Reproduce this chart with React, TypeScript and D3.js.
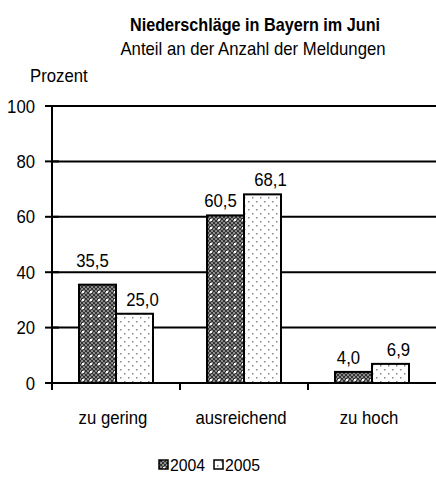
import { useEffect, useRef } from "react";
import * as d3 from "d3";

const categories = ["zu gering", "ausreichend", "zu hoch"];
const years = ["2004", "2005"];
const values2004 = [35.5, 60.5, 4.0];
const values2005 = [25.0, 68.1, 6.9];
const yTicks = [0, 20, 40, 60, 80, 100];

const fmt = (v: number) => v.toFixed(1).replace(".", ",");

export default function App() {
  const ref = useRef<SVGSVGElement>(null);

  useEffect(() => {
    const svg = d3.select(ref.current);
    svg.selectAll("*").remove();

    const left = 52;
    const right = 436;
    const top = 106;
    const bottom = 383;
    const font = "Liberation Sans, Arial, sans-serif";
    const sx = 0.93;

    // text helper: fonts in the original look a bit condensed
    const label = (g: any, x: number, y: number, t: string, anchor = "start", size = 18, bold = false, k = sx) =>
      g.append("text")
        .attr("transform", `translate(${x},${y}) scale(${k},1)`)
        .attr("text-anchor", anchor)
        .attr("font-family", font)
        .attr("font-size", size)
        .attr("font-weight", bold ? "bold" : "normal")
        .text(t);

    // patterns
    const defs = svg.append("defs");
    const p1 = defs.append("pattern").attr("id", "p2004").attr("patternUnits", "userSpaceOnUse")
      .attr("width", 8).attr("height", 8);
    p1.append("rect").attr("width", 8).attr("height", 8).attr("fill", "#8a8a8a");
    for (let i = 0; i < 8; i += 2) {
      for (let j = 0; j < 8; j += 2) {
        if (((i + j) / 2) % 2 === 0) {
          p1.append("rect").attr("x", i).attr("y", j).attr("width", 2).attr("height", 2).attr("fill", "#333");
        }
      }
    }
    p1.append("rect").attr("x", 3).attr("y", 3).attr("width", 2).attr("height", 2).attr("fill", "#ffffff");

    const p2 = defs.append("pattern").attr("id", "p2005").attr("patternUnits", "userSpaceOnUse")
      .attr("width", 8).attr("height", 8);
    p2.append("rect").attr("width", 8).attr("height", 8).attr("fill", "#ffffff");
    p2.append("rect").attr("x", 1).attr("y", 1).attr("width", 1.5).attr("height", 1.5).attr("fill", "#888");
    p2.append("rect").attr("x", 5).attr("y", 5).attr("width", 1.5).attr("height", 1.5).attr("fill", "#888");

    const x = d3.scaleBand().domain(categories).range([left, right]);
    const xInner = d3.scaleBand().domain(years).range([0, 74]);
    const y = d3.scaleLinear().domain([0, 100]).range([bottom, top]);

    // titles
    label(svg, 255, 31, "Niederschläge in Bayern im Juni", "middle", 18, true, 0.9);
    label(svg, 253, 55, "Anteil an der Anzahl der Meldungen", "middle", 18);
    label(svg, 30, 82, "Prozent");

    // gridlines
    const grid = yTicks.filter(t => t > 0);
    svg.append("g").selectAll("line").data(grid).join("line")
      .attr("x1", left).attr("x2", right).attr("y1", d => y(d)).attr("y2", d => y(d))
      .attr("stroke", "#000").attr("stroke-width", 2);

    // bars
    const barData = (i: number) => [
      { year: "2004", v: values2004[i] },
      { year: "2005", v: values2005[i] },
    ];
    categories.forEach((c, i) => {
      const g = svg.append("g")
        .attr("transform", `translate(${(x(c) as number) + x.bandwidth() / 2 - 37},0)`);
      g.selectAll("rect").data(barData(i)).join("rect")
        .attr("x", d => xInner(d.year) as number)
        .attr("width", xInner.bandwidth())
        .attr("y", d => y(d.v))
        .attr("height", d => bottom - y(d.v))
        .attr("fill", d => `url(#p${d.year})`)
        .attr("stroke", "#000").attr("stroke-width", 2);
      barData(i).forEach(d => {
        const cx = (xInner(d.year) as number) + xInner.bandwidth() / 2 + (d.year === "2004" ? -5 : 8);
        let by = y(d.v) - 8;
        // keep label clear of a gridline running through it
        const hit = grid.find(t => y(t) > by - 14 && y(t) < by + 2);
        if (hit !== undefined) by = y(hit) - 5;
        label(g, cx, by, fmt(d.v), "middle");
      });
    });

    // y axis
    svg.append("line").attr("x1", left).attr("x2", left).attr("y1", top).attr("y2", bottom + 7)
      .attr("stroke", "#000").attr("stroke-width", 2);
    svg.append("g").selectAll("line").data(yTicks).join("line")
      .attr("x1", left - 7).attr("x2", left + 7).attr("y1", d => y(d)).attr("y2", d => y(d))
      .attr("stroke", "#000").attr("stroke-width", 2);
    yTicks.forEach(t => label(svg, left - 17, y(t) + 6.5, String(t), "end"));

    // x axis
    svg.append("line").attr("x1", left).attr("x2", right).attr("y1", bottom).attr("y2", bottom)
      .attr("stroke", "#000").attr("stroke-width", 2);
    svg.append("g").selectAll("line").data(categories.slice(1)).join("line")
      .attr("x1", d => x(d) as number).attr("x2", d => x(d) as number)
      .attr("y1", bottom).attr("y2", bottom + 7)
      .attr("stroke", "#000").attr("stroke-width", 2);
    categories.forEach(c => label(svg, (x(c) as number) + x.bandwidth() / 2 - 3, 424, c, "middle"));

    // legend
    const lx = [159, 214];
    years.forEach((yr, i) => {
      svg.append("rect").attr("x", lx[i]).attr("y", 460).attr("width", 9).attr("height", 9)
        .attr("fill", `url(#p${yr})`).attr("stroke", "#000").attr("stroke-width", 1.5);
      label(svg, lx[i] + 11, 471, yr, "start", 17);
    });
  }, []);

  return (
    <svg ref={ref} width={436} height={477} style={{ position: "absolute", left: 0, top: 0 }} />
  );
}
